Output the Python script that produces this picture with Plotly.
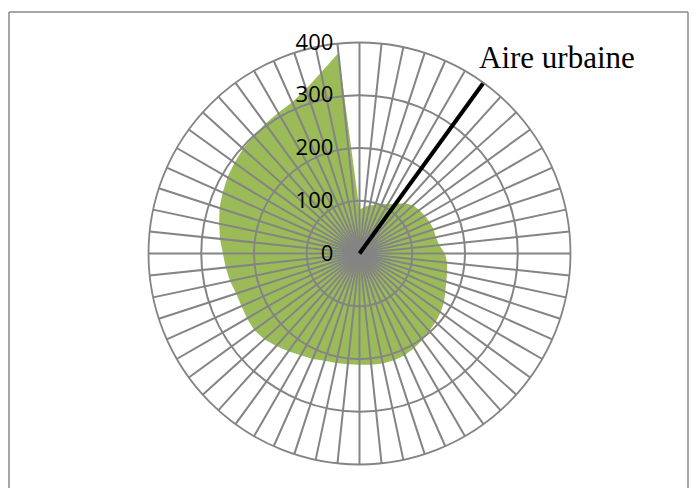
import plotly.graph_objects as go

# 60 directional sectors, 6 degrees apart, clockwise from north
directions = list(range(0, 360, 6))
density = [83, 89, 93, 97, 103, 108, 116, 128, 137, 140,
           143, 146, 148, 148, 152, 162, 167, 170, 173, 178,
           185, 190, 194, 198, 203, 207, 211, 213, 213, 212,
           211, 211, 212, 214, 219, 223, 229, 236, 243, 247,
           246, 245, 246, 251, 255, 259, 266, 272, 279, 284,
           289, 293, 297, 300, 304, 308, 314, 328, 351, 382]
radial_ticks = [0, 100, 200, 300, 400]

# direction of the urban area marker
urban_label = "Aire urbaine"
urban_direction = [36, 36]
urban_extent = [0, 400]

W, H = 699, 488
GRID = "#848484"
cx, cy, R = 359.5, 253.5, 211
dom_x = [(cx - R) / W, (cx + R) / W]
dom_y = [1 - (cy + R) / H, 1 - (cy - R) / H]

fig = go.Figure()

fig.add_trace(go.Scatterpolar(
    r=density + density[:1], theta=directions + directions[:1],
    mode="lines", fill="toself", fillcolor="#9BBB59",
    line=dict(width=0, color="#9BBB59"), subplot="polar",
    showlegend=False, hoverinfo="skip"))

fig.add_trace(go.Scatterpolar(
    r=urban_extent, theta=urban_direction, mode="lines",
    line=dict(color="black", width=4), subplot="polar2",
    showlegend=False, hoverinfo="skip"))

angular_common = dict(rotation=90, direction="clockwise",
                      tickmode="linear", tick0=0, dtick=6,
                      showticklabels=False, ticks="")

fig.update_layout(
    width=W, height=H, margin=dict(l=0, r=0, t=0, b=0),
    paper_bgcolor="white", showlegend=False,
    polar=dict(
        domain=dict(x=dom_x, y=dom_y), bgcolor="white",
        angularaxis=dict(**angular_common, showgrid=False, showline=False),
        radialaxis=dict(range=[0, 400], visible=False),
    ),
    polar2=dict(
        domain=dict(x=dom_x, y=dom_y), bgcolor="rgba(0,0,0,0)",
        angularaxis=dict(**angular_common, showgrid=True, gridcolor=GRID,
                         gridwidth=1.8, showline=True, linecolor=GRID,
                         linewidth=1.8),
        radialaxis=dict(range=[0, 400], tickvals=radial_ticks,
                        showline=False, showgrid=True, gridcolor=GRID,
                        gridwidth=1.8, angle=90, side="counterclockwise",
                        tickangle=90,
                        ticks="outside", ticklen=18,
                        tickcolor="rgba(0,0,0,0)",
                        tickfont=dict(family="Open Sans", size=22,
                                      color="black")),
    ),
    annotations=[dict(text=urban_label, xref="paper", yref="paper",
                      x=557 / W, y=1 - 58 / H, showarrow=False,
                      xanchor="center", yanchor="middle",
                      font=dict(family="Liberation Serif", size=31,
                                color="black"))],
    shapes=[
        dict(type="line", xref="paper", yref="paper",
             x0=9 / W, x1=688 / W, y0=1 - 12 / H, y1=1 - 12 / H,
             line=dict(color="#898989", width=1.5)),
        dict(type="line", xref="paper", yref="paper",
             x0=9 / W, x1=9 / W, y0=1 - 12 / H, y1=0,
             line=dict(color="#898989", width=1.5)),
        dict(type="line", xref="paper", yref="paper",
             x0=688 / W, x1=688 / W, y0=1 - 12 / H, y1=0,
             line=dict(color="#898989", width=1.5)),
    ],
)

fig.write_html("out.html")
